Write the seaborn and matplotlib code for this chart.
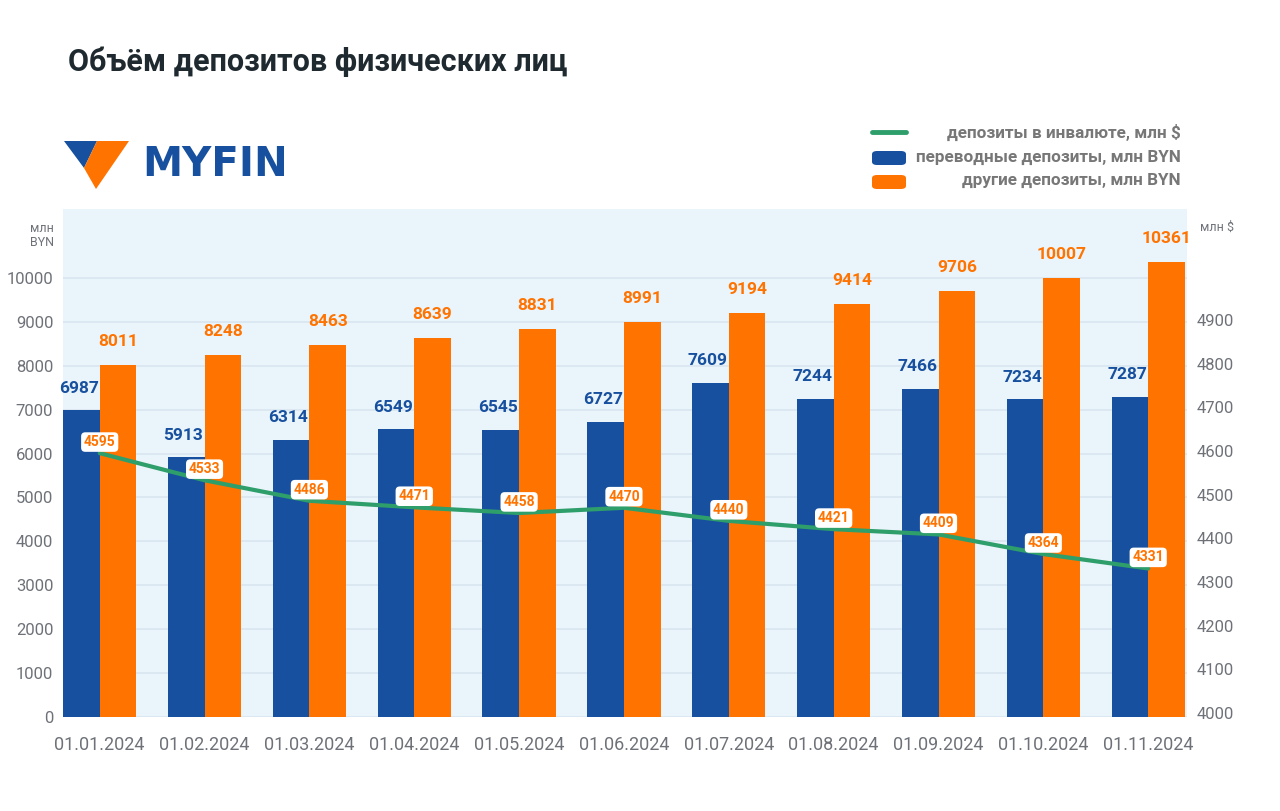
import numpy as np
import pandas as pd
import matplotlib
matplotlib.use("Agg")
import matplotlib.pyplot as plt
from matplotlib.patches import Polygon, FancyBboxPatch
from matplotlib.lines import Line2D
import seaborn as sns

# данные
dates = ["01.01.2024", "01.02.2024", "01.03.2024", "01.04.2024", "01.05.2024",
         "01.06.2024", "01.07.2024", "01.08.2024", "01.09.2024", "01.10.2024",
         "01.11.2024"]
transfer_byn = [6987, 5913, 6314, 6549, 6545, 6727, 7609, 7244, 7466, 7234, 7287]
other_byn = [8011, 8248, 8463, 8639, 8831, 8991, 9194, 9414, 9706, 10007, 10361]
foreign_usd = [4595, 4533, 4486, 4471, 4458, 4470, 4440, 4421, 4409, 4364, 4331]
left_ticks = list(range(0, 10001, 1000))
right_ticks = list(range(4000, 4901, 100))

BLUE = "#17509E"
ORANGE = "#FF7300"
GREEN = "#2E9E6B"
BG = "#EAF4FB"
GRID = "#D9E6F0"
GRAY = "#6E7278"
TITLE = "#1F2A30"

sns.set_theme(style="white")
plt.rcParams["font.family"] = ["Roboto", "DejaVu Sans"]

W, H = 1280, 811
fig = plt.figure(figsize=(12.8, 8.11), dpi=100, facecolor="white")
ax = fig.add_axes([63 / W, 1 - 717 / H, (1187 - 63) / W, (717 - 209) / H])
ax.set_facecolor(BG)

df = pd.DataFrame({"date": dates * 2,
                   "value": transfer_byn + other_byn,
                   "series": ["transfer"] * len(dates) + ["other"] * len(dates)})

# столбцы
sns.barplot(data=df, x="date", y="value", hue="series",
            palette=[BLUE, ORANGE], width=0.7, saturation=1,
            legend=False, ax=ax, zorder=2, linewidth=0, edgecolor="none")
ax.set_axisbelow(True)
ax.set_xlim(-0.35, 10.37)
ax.set_ylim(0, 11570)
ax.set_yticks(left_ticks)
ax.yaxis.grid(True, color=GRID, linewidth=1.2)
ax.xaxis.grid(False)
for s in ax.spines.values():
    s.set_visible(False)
ax.tick_params(axis="y", length=0, pad=7, labelsize=12, labelcolor=GRAY)
ax.tick_params(axis="x", length=0, pad=14, labelsize=13, labelcolor=GRAY)
ax.set_xlabel("")
ax.set_ylabel("")

# подписи столбцов
for i, (b, o) in enumerate(zip(transfer_byn, other_byn)):
    ax.annotate(str(b), (i - 0.175, b), xytext=(-2, 16), textcoords="offset points",
                ha="center", va="center", color=BLUE, fontsize=12.5, fontweight="bold")
    ax.annotate(str(o), (i + 0.175, o), xytext=(0, 17), textcoords="offset points",
                ha="center", va="center", color=ORANGE, fontsize=12.5, fontweight="bold")

# линия, правая ось
ax2 = ax.twinx()
sns.lineplot(x=np.arange(len(dates)), y=foreign_usd, color=GREEN, linewidth=3,
             ax=ax2, zorder=3)
ax2.set_ylim(3991, 5154)
ax2.set_yticks(right_ticks)
ax2.grid(False)
for s in ax2.spines.values():
    s.set_visible(False)
ax2.tick_params(axis="y", length=0, pad=7, labelsize=12, labelcolor=GRAY)
ax2.set_ylabel("")
for i, v in enumerate(foreign_usd):
    ax2.annotate(str(v), (i, v), xytext=(0, 8), textcoords="offset points",
                 ha="center", va="center", color=ORANGE, fontsize=10, fontweight="bold",
                 bbox=dict(boxstyle="round,pad=0.2,rounding_size=0.3", fc="white", ec="none"),
                 zorder=5)

# подписи осей
fig.text(54 / W, 1 - 236 / H, "млн\nBYN", ha="right", va="center", fontsize=9,
         color=GRAY, linespacing=1.1)
fig.text(1200 / W, 1 - 227 / H, "млн $", ha="left", va="center", fontsize=9, color=GRAY)

# заголовок
fig.text(68 / W, 1 - 62 / H, "Объём депозитов физических лиц", ha="left", va="center",
         fontsize=22, fontweight="bold", color=TITLE)

# логотип
def fp(x, y):
    return (x / W, 1 - y / H)

fig.patches.append(Polygon([fp(64, 141), fp(97, 141), fp(84, 168)], closed=True,
                           transform=fig.transFigure, fc=BLUE, ec="none"))
fig.patches.append(Polygon([fp(97, 141), fp(129, 141), fp(96, 189), fp(84, 168)],
                           closed=True, transform=fig.transFigure, fc=ORANGE, ec="none"))
fig.text(142 / W, 1 - 165 / H, "MYFIN", ha="left", va="center", fontsize=29,
         fontweight="bold", color=BLUE, family="DejaVu Sans")

# легенда
fig.lines.append(Line2D([872 / W, 906 / W], [1 - 132 / H] * 2, transform=fig.transFigure,
                        color=GREEN, linewidth=3.5))
for yc, col in [(158, BLUE), (182, ORANGE)]:
    fig.patches.append(FancyBboxPatch(fp(872, yc + 7), 34 / W, 14 / H,
                                      boxstyle="round,pad=0,rounding_size=0.004",
                                      transform=fig.transFigure, fc=col, ec="none"))
legend_labels = ["депозиты в инвалюте, млн $", "переводные депозиты, млн BYN",
                 "другие депозиты, млн BYN"]
for yc, lab in zip([132, 157, 180], legend_labels):
    fig.text(1181 / W, 1 - yc / H, lab, ha="right", va="center", fontsize=12.3,
             fontweight="bold", color="#777777")

fig.savefig("out.png", dpi=100, facecolor="white")
